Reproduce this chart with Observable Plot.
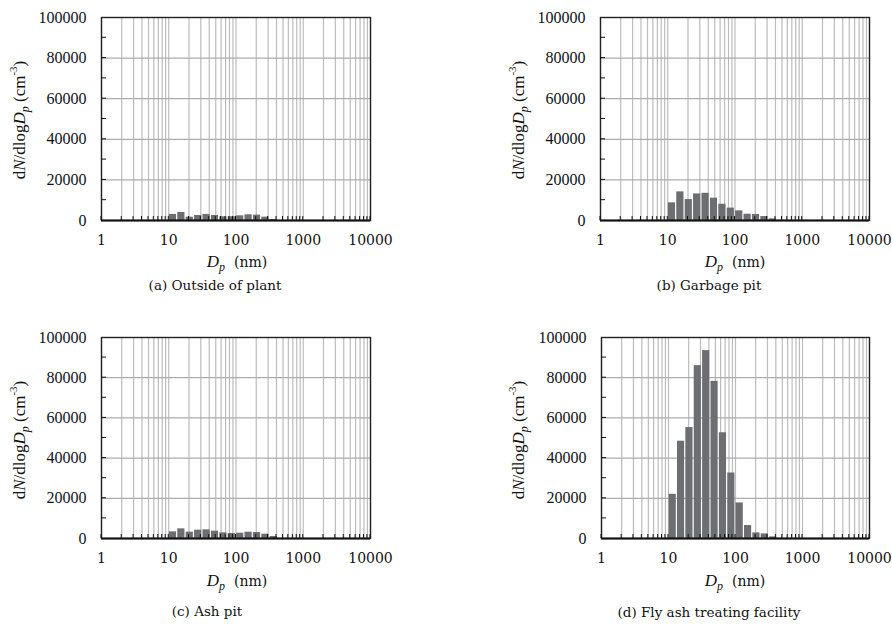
<!DOCTYPE html>
<html>
<head>
<meta charset="utf-8">
<script src="https://cdn.jsdelivr.net/npm/d3@7"></script>
<script src="https://cdn.jsdelivr.net/npm/@observablehq/plot@0.6"></script>
<style>
  html, body { margin: 0; padding: 0; background: #fff; }
  #wrap { position: relative; width: 892px; height: 626px; overflow: hidden; }
  #wrap svg { position: absolute; }
</style>
</head>
<body>
<div id="wrap"></div>
<script>
// Bin edges of the size channels (nm)
const binEdges = [10, 13.34, 17.78, 23.71, 31.62, 42.17, 56.23, 74.99, 100, 133.4, 177.8, 237.1, 316.2, 421.7];

// dN/dlogDp (cm^-3) for each bin
const outsidePlant = [2980, 3970, 1650, 2480, 2980, 2480, 1820, 1820, 2310, 2810, 2640, 1650, 500];
const garbagePit   = [8700, 14100, 10300, 13100, 13400, 11000, 8000, 6100, 4750, 3100, 2950, 1950, 800];
const ashPit       = [3300, 4800, 3150, 4150, 4300, 3650, 2800, 2500, 2650, 3150, 2950, 2150, 1000];
const flyAsh       = [22000, 48400, 55200, 86000, 93500, 78200, 52600, 32600, 17700, 6450, 2800, 2300, 800];

// Axis ticks
const xTickLabels = [1, 10, 100, 1000, 10000];
const xMinor = [1,2,3,4,5,6,7,8,9,10,20,30,40,50,60,70,80,90,100,200,300,400,500,600,700,800,900,1000,2000,3000,4000,5000,6000,7000,8000,9000,10000];
const yTickLabels = [0, 20000, 40000, 60000, 80000, 100000];
const yGrid = [20000, 40000, 60000, 80000];
const yMinor = [10000, 20000, 30000, 40000, 50000, 60000, 70000, 80000, 90000];

const captions = ["(a) Outside of plant", "(b) Garbage pit", "(c) Ash pit", "(d) Fly ash treating facility"];
const series = [outsidePlant, garbagePit, ashPit, flyAsh];

// Layout of each panel in page pixels
const boxes = [
  {left: 0,   top: 0,   W: 446, H: 313, fx0: 101, fx1: 370, fy0: 17,  fy1: 220, capX: 215, capY: 286, xlabX: 237, xlabY: 263, ylabX: 21,  ylabY: 120},
  {left: 446, top: 0,   W: 446, H: 313, fx0: 600, fx1: 869, fy0: 17,  fy1: 220, capX: 709, capY: 286, xlabX: 735, xlabY: 263, ylabX: 520, ylabY: 120},
  {left: 0,   top: 313, W: 446, H: 313, fx0: 101, fx1: 370, fy0: 337, fy1: 538, capX: 207, capY: 612, xlabX: 237, xlabY: 582, ylabX: 21,  ylabY: 440},
  {left: 446, top: 313, W: 446, H: 313, fx0: 601, fx1: 869, fy0: 337, fy1: 538, capX: 709, capY: 613, xlabX: 735, xlabY: 582, ylabX: 520, ylabY: 440}
];

const wrap = document.getElementById("wrap");

series.forEach((vals, i) => {
  const b = boxes[i];
  const data = vals.map((v, k) => ({x1: binEdges[k], x2: binEdges[k + 1], y: v}));
  const mL = b.fx0 - b.left, mR = b.left + b.W - b.fx1, mT = b.fy0 - b.top, mB = b.top + b.H - b.fy1;
  const svg = Plot.plot({
    width: b.W, height: b.H,
    marginLeft: mL, marginRight: mR, marginTop: mT, marginBottom: mB,
    x: {type: "log", domain: [1, 10000]},
    y: {domain: [0, 100000]},
    style: {background: "transparent", fontFamily: "'Liberation Serif', serif", color: "#111"},
    marks: [
      Plot.ruleX(xMinor, {stroke: "#bcbcbc", strokeWidth: 1.2}),
      Plot.ruleY(yGrid, {stroke: "#adadad", strokeWidth: 1.2}),
      Plot.rectY(data, {x1: "x1", x2: "x2", y: "y", fill: "#6d6e71", insetLeft: 0.6, insetRight: 0.6}),
      Plot.frame({stroke: "#222", strokeWidth: 1.4}),
      Plot.ruleY([0], {stroke: "#111", strokeWidth: 2}),
      Plot.axisX({ticks: xTickLabels, tickSize: 0, tickPadding: 15, tickFormat: d => String(d), label: null, fontSize: 14, fontFamily: "'DejaVu Serif', serif", fill: "#111"}),
      Plot.axisY({ticks: yTickLabels, tickSize: 0, tickPadding: 15, tickFormat: d => String(d), label: null, fontSize: 16, fill: "#111"})
    ]
  });
  svg.style.left = b.left + "px";
  svg.style.top = b.top + "px";
  wrap.appendChild(svg);

  const sx = svg.scale("x"), sy = svg.scale("y");
  const g = d3.select(svg).append("g").attr("fill", "#111");

  // inner ticks (positioned with the plot's own scales)
  const tg = g.append("g").attr("stroke", "#111").attr("stroke-width", 1);
  const y0 = sy.apply(0), x0 = sx.apply(1);
  xMinor.forEach(v => {
    const x = sx.apply(v);
    tg.append("line").attr("x1", x).attr("x2", x).attr("y1", y0).attr("y2", y0 - 4);
  });
  yMinor.forEach(v => {
    const y = sy.apply(v);
    tg.append("line").attr("x1", x0).attr("x2", x0 + 5).attr("y1", y).attr("y2", y);
  });

  // y label
  const yl = g.append("text")
    .attr("transform", `translate(${b.ylabX - b.left},${b.ylabY - b.top}) rotate(-90)`)
    .attr("text-anchor", "middle")
    .attr("dominant-baseline", "middle")
    .attr("font-family", "'Liberation Serif', serif")
    .attr("font-size", 17);
  yl.append("tspan").text("d");
  yl.append("tspan").attr("font-style", "italic").text("N");
  yl.append("tspan").text("/dlog");
  yl.append("tspan").attr("font-style", "italic").text("D");
  yl.append("tspan").attr("font-style", "italic").attr("font-size", 12).attr("dy", 5).text("p");
  yl.append("tspan").attr("dy", -5).text(" (cm");
  yl.append("tspan").attr("font-size", 11).attr("dy", -7).text("-3");
  yl.append("tspan").attr("dy", 7).text(")");

  // x label
  const xl = g.append("text")
    .attr("x", b.xlabX - b.left).attr("y", b.xlabY - b.top)
    .attr("text-anchor", "middle")
    .attr("dominant-baseline", "middle")
    .attr("font-family", "'DejaVu Serif', serif")
    .attr("font-size", 14);
  xl.append("tspan").attr("font-style", "italic").attr("font-family", "'Liberation Serif', serif").attr("font-size", 17).text("D");
  xl.append("tspan").attr("font-style", "italic").attr("font-family", "'Liberation Serif', serif").attr("font-size", 12).attr("dy", 5).text("p");
  xl.append("tspan").attr("dy", -5).text("\u00a0\u00a0(nm)");

  // caption
  g.append("text")
    .attr("x", b.capX - b.left).attr("y", b.capY - b.top)
    .attr("text-anchor", "middle")
    .attr("dominant-baseline", "middle")
    .attr("font-family", "'DejaVu Serif', serif")
    .attr("font-size", 13.5)
    .text(captions[i]);
});
</script>
</body>
</html>
